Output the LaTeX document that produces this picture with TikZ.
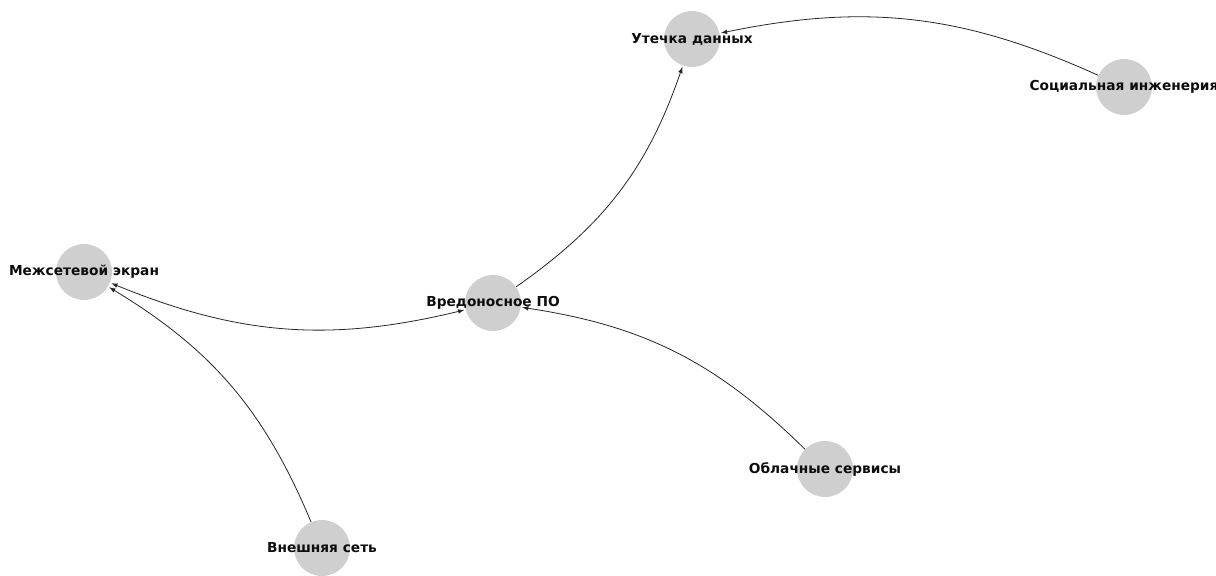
\documentclass[tikz,border=0pt]{standalone}
\usepackage{fontspec}
\setmainfont{DejaVu Sans}
\usetikzlibrary{arrows}

\begin{document}
\begin{tikzpicture}[x=0.75pt, y=-0.75pt, >=latex, topic/.style={circle, fill=gray!38, minimum size=42pt, inner sep=0pt}, tag/.style={font=\bfseries\fontsize{10.3}{12}\selectfont, text=black!95}, link/.style={->, draw=black!85, line width=0.6pt, shorten >=1pt}]
	\useasboundingbox (0,0) rectangle (1216,575);

	% nodes
	\node[topic, label={[tag]center:Утечка данных}] (leak) at (692,39) {};
	\node[topic, label={[tag]center:Социальная инженерия}] (social) at (1124,87) {};
	\node[topic, label={[tag]center:Межсетевой экран}] (firewall) at (84,272) {};
	\node[topic, label={[tag]center:Вредоносное ПО}] (malware) at (493,303) {};
	\node[topic, label={[tag]center:Облачные сервисы}] (cloud) at (825,469) {};
	\node[topic, label={[tag]center:Внешняя сеть}] (extnet) at (322,548) {};

	% edges
	\draw [link] (social) to[bend right=18] (leak);
	\draw [link] (malware) to[bend right=18] (leak);
	\draw [link, <->, shorten <=1pt] (firewall) to[bend right=18] (malware);
	\draw [link] (cloud) to[bend right=18] (malware);
	\draw [link] (extnet) to[bend right=18] (firewall);
\end{tikzpicture}
\end{document}
